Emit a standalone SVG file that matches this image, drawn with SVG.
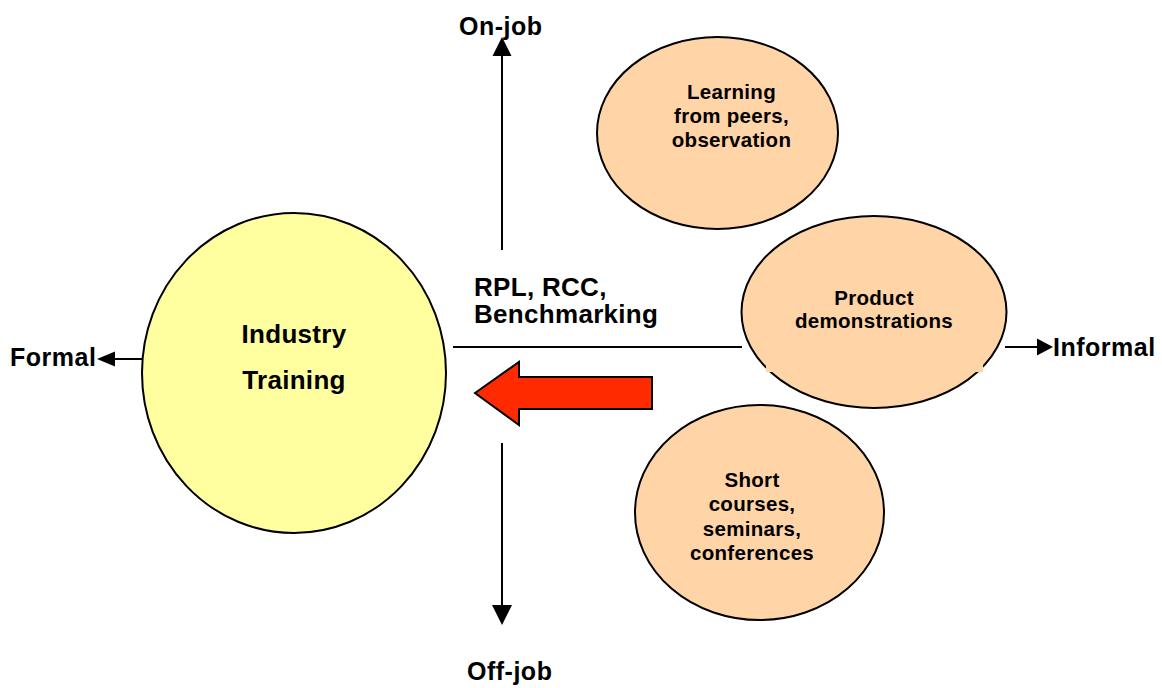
<svg xmlns="http://www.w3.org/2000/svg" width="1162" height="688" viewBox="0 0 1162 688">
  <style>
    text { font-family: "Liberation Sans", Arial, sans-serif; font-weight: bold; fill: #000; }
    .axis { font-size: 25px; letter-spacing: 0.5px; }
    .big { font-size: 26px; letter-spacing: 0.3px; }
    .small { font-size: 20.5px; letter-spacing: 0.3px; }
    .mid { text-anchor: middle; }
    .ln { stroke: #000; stroke-width: 2; fill: none; }
    .peach { fill: #FFD4A6; stroke: #000; stroke-width: 2; }
  </style>
  <rect width="1162" height="688" fill="#fff"/>

  <!-- axes and arrows -->
  <g id="connectors">
    <line class="ln" x1="502" y1="56" x2="502" y2="250"/>
    <polygon points="502,37 492.5,56 511.5,56" fill="#000"/>
    <line class="ln" x1="502" y1="443" x2="502" y2="605"/>
    <polygon points="502,625 492,605 512,605" fill="#000"/>
    <line class="ln" x1="453" y1="347" x2="742" y2="347"/>
    <line class="ln" x1="1005" y1="347" x2="1037" y2="347"/>
    <polygon points="1053,347 1037,338.5 1037,355.5" fill="#000"/>
    <line class="ln" x1="115" y1="359" x2="142" y2="359"/>
    <polygon points="97,359 115,351.5 115,366.5" fill="#000"/>
    <polygon points="475,393 519,362 519,377 652,377 652,409 519,409 519,425" fill="#FF2A00" stroke="#000" stroke-width="2" stroke-linejoin="miter"/>
  </g>

  <g id="industry-training">
    <ellipse cx="294" cy="373" rx="152" ry="160" fill="#FFFFA0" stroke="#000" stroke-width="2"/>
    <text class="big mid" x="294" y="343">Industry</text>
    <text class="big mid" x="294" y="389">Training</text>
  </g>

  <g id="learning-peers">
    <ellipse class="peach" cx="717.5" cy="133" rx="120.5" ry="96"/>
    <text class="small mid" x="731.5" y="99">Learning</text>
    <text class="small mid" x="731.5" y="123">from peers,</text>
    <text class="small mid" x="731.5" y="147">observation</text>
  </g>

  <g id="product-demos">
    <ellipse class="peach" cx="874" cy="312" rx="132.5" ry="96"/>
    <rect x="766" y="355" width="217" height="17" fill="#FFD4A6"/>
    <text class="small mid" x="874" y="305">Product</text>
    <text class="small mid" x="874" y="328">demonstrations</text>
  </g>

  <g id="short-courses">
    <ellipse class="peach" cx="759.5" cy="512.5" rx="124.5" ry="107.5"/>
    <text class="small mid" x="752" y="487">Short</text>
    <text class="small mid" x="752" y="511">courses,</text>
    <text class="small mid" x="752" y="536">seminars,</text>
    <text class="small mid" x="752" y="560">conferences</text>
  </g>

  <g id="labels">
    <text class="axis" x="459" y="35">On-job</text>
    <text class="axis" x="467" y="680">Off-job</text>
    <text class="axis" x="10" y="366">Formal</text>
    <text class="axis" x="1053" y="356">Informal</text>
    <text class="big" x="474" y="296">RPL, RCC,</text>
    <text class="big" x="474" y="323">Benchmarking</text>
  </g>
</svg>
